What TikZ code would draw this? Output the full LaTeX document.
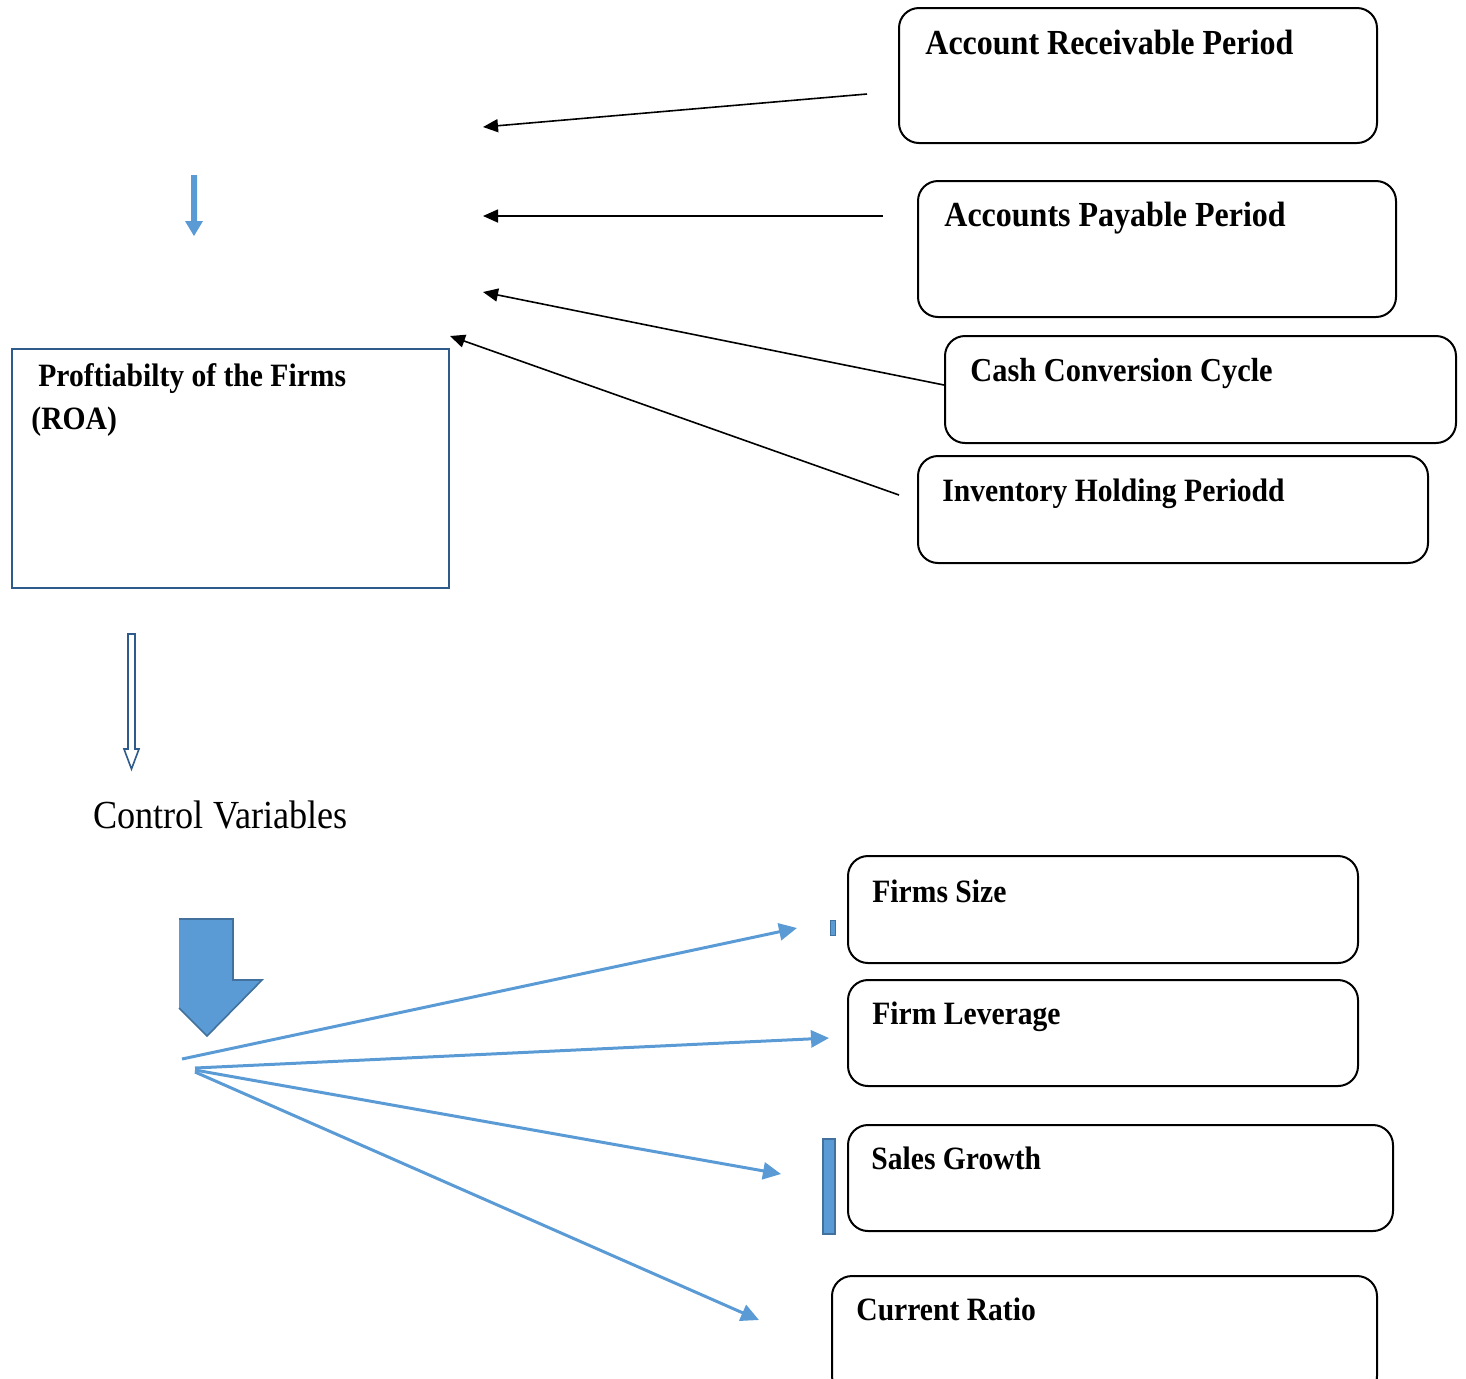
\documentclass[tikz,border=0pt]{standalone}
\usepackage{fontspec}
\usepackage{graphicx}
\setmainfont{Liberation Serif}
\usetikzlibrary{arrows.meta}
\definecolor{lblue}{HTML}{5B9BD5}
\definecolor{dblue}{HTML}{2F5B8C}
\definecolor{eblue}{HTML}{41719C}
\newcommand{\tallA}[1]{\scalebox{1}[1.1]{#1}}
\begin{document}
\begin{tikzpicture}[x=0.5pt,y=-0.5pt,
  rbox/.style={draw=black,line width=1pt,rounded corners=10pt,inner sep=0pt,anchor=north west},
  lbl/.style={anchor=base west,inner sep=0pt,font=\bfseries\fontsize{14.8}{18}\selectfont},
  lblbig/.style={anchor=base west,inner sep=0pt,font=\bfseries\fontsize{16}{19}\selectfont},
  blk/.style={draw=black,line width=0.8pt,-{Triangle[length=7.5pt,width=6.5pt]}},
  blu/.style={draw=lblue,line width=1.5pt,-{Triangle[length=9pt,width=8.5pt]}}]
\useasboundingbox (0,0) rectangle (1466,1378);
\clip (0,0) rectangle (1466,1378);
% top boxes
\node[rbox,minimum width=239pt,minimum height=67.5pt] (ar) at (898,7) {};
\node[lblbig] (arT) at (925,54) {\tallA{Account Receivable Period}};
\node[rbox,minimum width=239pt,minimum height=68pt] (ap) at (917,180) {};
\node[lblbig] (apT) at (944,226) {\tallA{Accounts Payable Period}};
\node[rbox,minimum width=255.5pt,minimum height=53.5pt] (ccc) at (944,335) {};
\node[lbl,font=\bfseries\fontsize{15.2}{18}\selectfont] (cccT) at (970,381) {\tallA{Cash Conversion Cycle}};
\node[rbox,minimum width=255pt,minimum height=53.5pt] (ihp) at (917,455) {};
\node[lbl] (ihpT) at (942,501) {\tallA{Inventory Holding Periodd}};
% ROA box
\node[draw=dblue,line width=1pt,inner sep=0pt,anchor=north west,minimum width=218.5pt,minimum height=119.5pt] (roa) at (11,348) {};
\node[lbl] (roaT1) at (38,386) {\tallA{Proftiabilty of the Firms}};
\node[lbl] (roaT2) at (31,429) {\tallA{(ROA)}};
% black arrows
\coordinate (s1) at (867,94);   \coordinate (e1) at (483,127);
\coordinate (s2) at (883,216);  \coordinate (e2) at (483,216);
\coordinate (s3) at (944,385);  \coordinate (e3) at (483,292);
\coordinate (s4) at (899,495);  \coordinate (e4) at (450,336);
\draw[blk] (s1) -- (e1);
\draw[blk] (s2) -- (e2);
\draw[blk] (s3) -- (e3);
\draw[blk] (s4) -- (e4);
% small blue arrow
\fill[lblue] (191,175) -- (197,175) -- (197,221) -- (203,221) -- (194,236) -- (185,221) -- (191,221) -- cycle;
% hollow arrow
\draw[dblue,line width=0.8pt,fill=white] (128,634) -- (135,634) -- (135,749) -- (139,749) -- (131.5,769) -- (124,749) -- (128,749) -- cycle;
% control variables
\node[anchor=base west,inner sep=0pt,font=\fontsize{18.1}{21}\selectfont] (cv) at (93,828) {\tallA{Control Variables}};
% big blue bent arrow
\filldraw[fill=lblue,draw=eblue,line width=0.8pt] (179,919) -- (233,919) -- (233,980) -- (262,980) -- (207,1036) -- (179,1008);
% bottom boxes
\node[rbox,minimum width=255pt,minimum height=53.5pt] (fs) at (847,855) {};
\node[lbl] (fsT) at (872,902) {\tallA{Firms Size}};
\node[rbox,minimum width=255pt,minimum height=53pt] (fl) at (847,979) {};
\node[lbl] (flT) at (872,1024) {\tallA{Firm Leverage}};
\node[rbox,minimum width=272.5pt,minimum height=53pt] (sg) at (847,1124) {};
\node[lbl] (sgT) at (871,1169) {\tallA{Sales Growth}};
\node[rbox,minimum width=272.5pt,minimum height=60pt] (cr) at (831,1275) {};
\node[lbl] (crT) at (856,1320) {\tallA{Current Ratio}};
% small blue marks
\filldraw[fill=lblue,draw=eblue,line width=0.5pt] (830,920) rectangle (835,935);
\filldraw[fill=lblue,draw=eblue,line width=0.6pt] (823,1139) rectangle (835,1234);
% blue arrows
\coordinate (b1) at (182,1059); \coordinate (t1) at (797,928);
\coordinate (b2) at (195,1068); \coordinate (t2) at (829,1038);
\coordinate (b3) at (195,1070); \coordinate (t3) at (781,1174);
\coordinate (b4) at (195,1072); \coordinate (t4) at (759,1320);
\draw[blu] (b1) -- (t1);
\draw[blu] (b2) -- (t2);
\draw[blu] (b3) -- (t3);
\draw[blu] (b4) -- (t4);
\end{tikzpicture}
\end{document}
